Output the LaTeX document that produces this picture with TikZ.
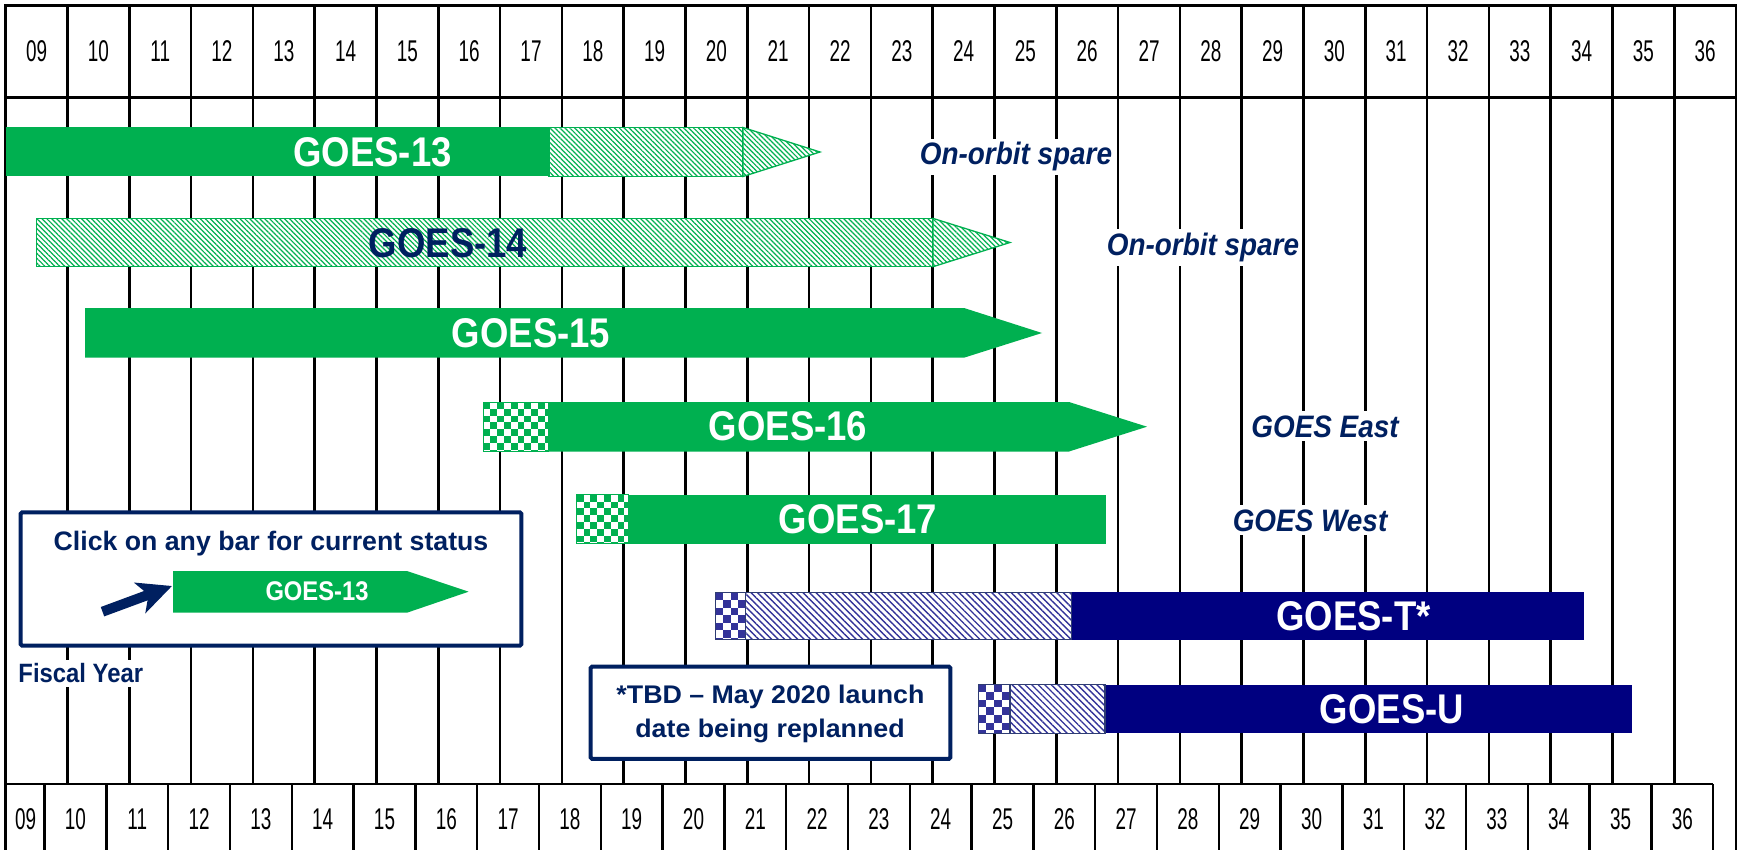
\documentclass[tikz,border=0pt]{standalone}
\usepackage{fontspec}
\setmainfont{Liberation Sans}
\newfontfamily\fbar{Liberation Sans}[FakeStretch=0.88]
\newfontfamily\fital{Liberation Sans}[FakeStretch=0.9]
\newfontfamily\fnum{Liberation Sans}[FakeStretch=0.63]
\newfontfamily\fwide{Liberation Sans}[FakeStretch=1.05]
\usetikzlibrary{patterns.meta,arrows.meta}
\definecolor{gbar}{HTML}{00B050}
\definecolor{nbar}{HTML}{000080}
\definecolor{ntext}{HTML}{002060}
\definecolor{bchk}{HTML}{333399}
\definecolor{nedge}{HTML}{2F3D73}
\newcommand{\chkfill}[6]{%
  \begin{scope}
    \clip (#1,#2) rectangle (#3,#4);
    \fill[white] (#1,#2) rectangle (#3,#4);
    \pgfmathtruncatemacro{\chknx}{ceil((#3-#1)/#5)}%
    \pgfmathtruncatemacro{\chkny}{ceil((#4-#2)/#5)}%
    \foreach \ci in {0,...,\chknx}{%
      \foreach \cj in {0,...,\chkny}{%
        \pgfmathtruncatemacro{\chkp}{mod(\ci+\cj,2)}%
        \ifnum\chkp=0\relax
          \fill[#6] ({#1+\ci*#5},{#2+\cj*#5}) rectangle ++(#5,#5);
        \fi
      }%
    }%
  \end{scope}}
\begin{document}
\begin{tikzpicture}[x=1pt,y=-1pt,
  gridline/.style={line width=2.5pt, black},
  hatchg/.style={preaction={fill=white}, pattern={Lines[angle=-45,distance=3.5pt,line width=1.2pt]}, pattern color=gbar, draw=gbar, line width=1.3pt},
  hatchn/.style={preaction={fill=white}, pattern={Lines[angle=-45,distance=4.6pt,line width=1.4pt]}, pattern color=bchk, draw=nedge, line width=1.3pt},
  barlab/.style={font=\fbar\bfseries\fontsize{41.5}{41.5}\selectfont, inner sep=0pt},
  itlab/.style={font=\fital\bfseries\itshape\fontsize{31}{31}\selectfont, text=ntext, fill=white, inner xsep=3pt, inner ysep=4pt, anchor=base},
  numlab/.style={font=\fnum\fontsize{30}{30}\selectfont, inner sep=0pt},
  notebox/.style={draw=ntext, line width=4pt, fill=white, rounded corners=1.5pt},
]
\fill[white] (0,0) rectangle (1739,850);
\useasboundingbox (0,0) rectangle (1739,850);

% ---- grid ----
\foreach \k in {1,...,27} \draw[gridline] ({5.7+61.8*\k},5.4) -- ({5.7+61.8*\k},784);
\draw[gridline] (5.7,850) -- (5.7,5.4) -- (1736.1,5.4) -- (1736.1,850);
\draw[gridline] (5.7,97.6) -- (1736.1,97.6);
\draw[gridline] (5.7,784) -- (1713.2,784);
\foreach \k in {0,...,27} \draw[gridline] ({44.6+61.8*\k},784) -- ({44.6+61.8*\k},850);

% ---- year numbers ----
\foreach \lab [count=\c from 0] in {09,10,11,12,13,14,15,16,17,18,19,20,21,22,23,24,25,26,27,28,29,30,31,32,33,34,35,36}{
  \node[numlab] (top\c) at ({5.7+61.8*(\c+0.5)},51.5) {\lab};
  \pgfmathsetmacro{\bx}{\c==0 ? 25.6 : 44.6+61.8*(\c-0.5)}
  \node[numlab] (bot\c) at (\bx,819) {\lab};
}

% ---- GOES-13 ----
\fill[gbar] (5.7,127.5) rectangle (549,176.5);
\path[hatchg] (549,127.5) rectangle (743,176.5);
\path[hatchg] (743,127.5) -- (820,152) -- (743,176.5) -- cycle;
\node[barlab, text=white] (g13) at (372.6,152) {GOES-13};

% ---- GOES-14 ----
\path[hatchg] (36.7,218.4) rectangle (933,266.7);
\path[hatchg] (933,218.4) -- (1010,242.5) -- (933,266.7) -- cycle;
\node[barlab, text=ntext] (g14) at (448,243) {GOES-14};

% ---- GOES-15 ----
\fill[gbar] (85,308) -- (964,308) -- (1042,333) -- (964,357.7) -- (85,357.7) -- cycle;
\node[barlab, text=white] (g15) at (531,333) {GOES-15};

% ---- GOES-16 ----
\fill[gbar] (548.2,402) -- (1069,402) -- (1147,426.7) -- (1069,451.5) -- (548.2,451.5) -- cycle;
\chkfill{483.5}{402}{548.2}{451.5}{6.8}{gbar}
\draw[gbar, line width=1pt] (483.5,402) rectangle (548.2,451.5);
\node[barlab, text=white] (g16) at (788,426.7) {GOES-16};

% ---- GOES-17 ----
\fill[gbar] (628.8,494.8) rectangle (1106,543.6);
\chkfill{576.7}{494.8}{628.8}{543.6}{6.8}{gbar}
\draw[gbar, line width=1pt] (576.7,494.8) rectangle (628.8,543.6);
\node[barlab, text=white] (g17) at (858,519.2) {GOES-17};

% ---- GOES-T ----
\fill[nbar] (1071.7,592.4) rectangle (1584,639.6);
\path[hatchn] (745.2,592.4) rectangle (1071.7,639.6);
\chkfill{715.3}{592.4}{745.2}{639.6}{7.6}{bchk}
\draw[nedge, line width=1.3pt] (715.3,592.4) rectangle (745.2,639.6);
\node[barlab, text=white] (gT) at (1353.5,616) {GOES-T*};

% ---- GOES-U ----
\fill[nbar] (1105,684.5) rectangle (1631.5,733.3);
\path[hatchn] (1010,684.5) rectangle (1105,733.3);
\chkfill{978.7}{684.5}{1010}{733.3}{7.6}{bchk}
\draw[nedge, line width=1.3pt] (978.7,684.5) rectangle (1010,733.3);
\node[barlab, text=white] (gU) at (1392,709) {GOES-U};

% ---- status labels ----
\node[itlab] (spare13) at (1016,165) {On-orbit spare};
\node[itlab] (spare14) at (1203,255.5) {On-orbit spare};
\node[itlab] (east) at (1325,437) {GOES East};
\node[itlab] (west) at (1310,531) {GOES West};

% ---- legend ----
\draw[notebox] (20.7,512.3) rectangle (521.4,645.7);
\node[anchor=base, inner sep=0pt, font=\bfseries\fontsize{26.7}{26.7}\selectfont, text=ntext] (legtext) at (271,550.7) {Click on any bar for current status};
\fill[gbar] (173,571) -- (407,571) -- (468.6,591.7) -- (407,612.7) -- (173,612.7) -- cycle;
\node[font=\fbar\bfseries\fontsize{27}{27}\selectfont, text=white, inner sep=0pt] (leglab) at (317,591) {GOES-13};
\coordinate (legtail) at (102.5,611.7);
\coordinate (legtip) at (172,586);
\draw[ntext, line width=10pt, -{Stealth[length=34pt,width=32pt,inset=9pt]}] (legtail) -- (legtip);

\node[font=\fital\bfseries\fontsize{26.5}{26.5}\selectfont, text=ntext, fill=white, inner sep=4pt] (fy) at (80.8,673.5) {Fiscal Year};

% ---- TBD note ----
\draw[notebox] (590.6,666.7) rectangle (950.4,758.8);
\node[anchor=base, inner sep=0pt, font=\fwide\bfseries\fontsize{25.5}{25.5}\selectfont, text=ntext] (tbd1) at (770.5,703.3) {*TBD – May 2020 launch};
\node[anchor=base, inner sep=0pt, font=\fwide\bfseries\fontsize{25.5}{25.5}\selectfont, text=ntext] (tbd2) at (770,737) {date being replanned};
\end{tikzpicture}
\end{document}
